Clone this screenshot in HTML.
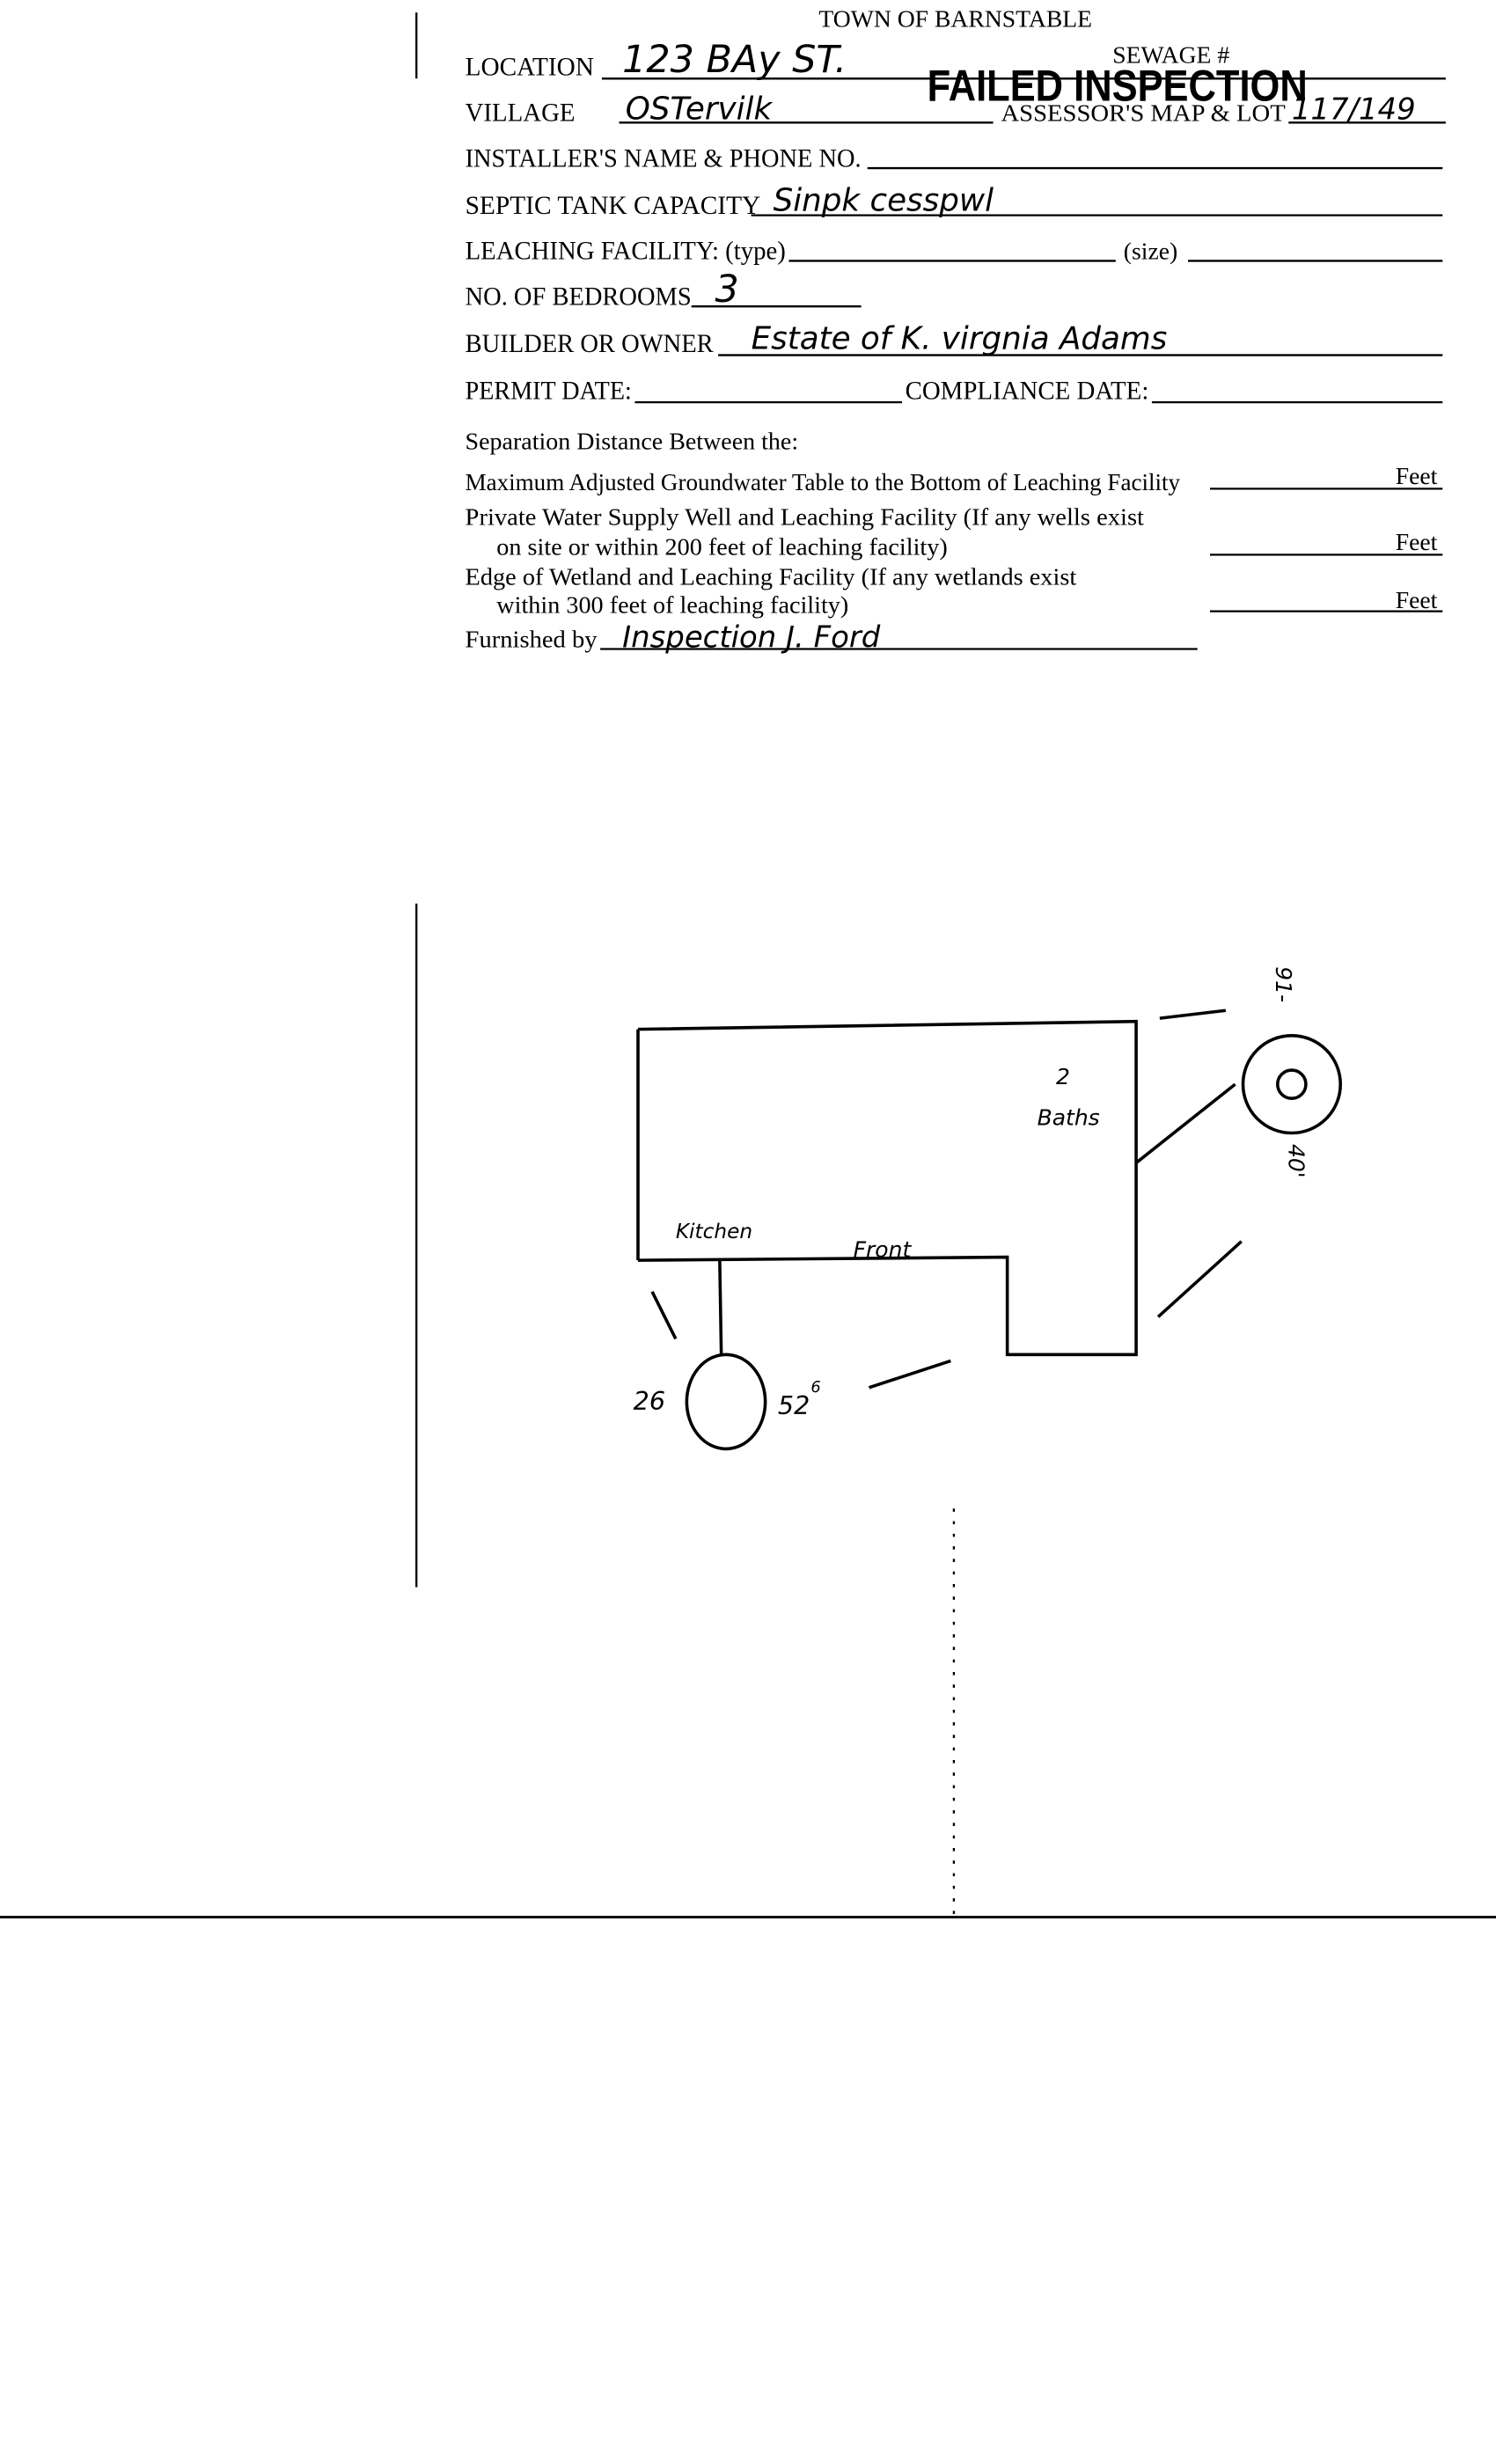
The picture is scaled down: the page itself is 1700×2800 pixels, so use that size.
<!DOCTYPE html>
<html><head><meta charset="utf-8"><style>
html,body{margin:0;padding:0;background:#fff;}
svg{display:block;}
.f{font-family:"Liberation Serif",serif;font-size:15.5px;fill:#000;}
.c{font-size:16.5px;}
.h{font-family:"DejaVu Sans",sans-serif;font-style:italic;fill:#000;}
</style></head><body>
<svg width="1700" height="2800" viewBox="0 0 952 1568" xmlns="http://www.w3.org/2000/svg">
<g stroke="#000" stroke-width="1.3" fill="none">
<line x1="265" y1="8" x2="265" y2="50"/>
<line x1="265" y1="575" x2="265" y2="1010"/>
<line x1="0" y1="1220" x2="952" y2="1220" stroke-width="1.6"/>
<line x1="607" y1="960" x2="607" y2="1220" stroke-dasharray="2,6"/>
<line x1="383" y1="50" x2="920" y2="50"/>
<line x1="394" y1="78" x2="632" y2="78"/>
<line x1="820" y1="78" x2="920" y2="78"/>
<line x1="552" y1="107" x2="918" y2="107"/>
<line x1="478" y1="137" x2="918" y2="137"/>
<line x1="502" y1="166" x2="710" y2="166"/>
<line x1="756" y1="166" x2="918" y2="166"/>
<line x1="440" y1="195" x2="548" y2="195"/>
<line x1="457" y1="226" x2="918" y2="226"/>
<line x1="404" y1="256" x2="574" y2="256"/>
<line x1="733" y1="256" x2="918" y2="256"/>
<line x1="770" y1="311" x2="918" y2="311"/>
<line x1="770" y1="353" x2="918" y2="353"/>
<line x1="770" y1="389" x2="918" y2="389"/>
<line x1="382" y1="413" x2="762" y2="413"/>
</g>
<text class="f" x="608" y="17" text-anchor="middle">TOWN OF BARNSTABLE</text>
<text class="f c" x="296" y="48" textLength="82" lengthAdjust="spacingAndGlyphs">LOCATION</text>
<text class="f" x="708" y="40" font-size="11">SEWAGE #</text>
<text x="590" y="64" font-family="Liberation Sans,sans-serif" font-weight="bold" font-size="28" textLength="242" lengthAdjust="spacingAndGlyphs">FAILED INSPECTION</text>
<text class="f" x="637" y="77" font-size="14" textLength="181" lengthAdjust="spacingAndGlyphs">ASSESSOR'S MAP &amp; LOT</text>
<text class="f c" x="296" y="77" textLength="70" lengthAdjust="spacingAndGlyphs">VILLAGE</text>
<text class="f c" x="296" y="106" textLength="252" lengthAdjust="spacingAndGlyphs">INSTALLER'S NAME &amp; PHONE NO.</text>
<text class="f c" x="296" y="136" textLength="188" lengthAdjust="spacingAndGlyphs">SEPTIC TANK CAPACITY</text>
<text class="f c" x="296" y="165" textLength="204" lengthAdjust="spacingAndGlyphs">LEACHING FACILITY: (type)</text>
<text class="f" x="715" y="165">(size)</text>
<text class="f c" x="296" y="194" textLength="144" lengthAdjust="spacingAndGlyphs">NO. OF BEDROOMS</text>
<text class="f c" x="296" y="224" textLength="158" lengthAdjust="spacingAndGlyphs">BUILDER OR OWNER</text>
<text class="f c" x="296" y="254" textLength="106" lengthAdjust="spacingAndGlyphs">PERMIT DATE:</text>
<text class="f c" x="576" y="254" textLength="155" lengthAdjust="spacingAndGlyphs">COMPLIANCE  DATE:</text>
<text class="f" x="296" y="286" textLength="212" lengthAdjust="spacingAndGlyphs">Separation Distance Between the:</text>
<text class="f" x="296" y="312" textLength="455" lengthAdjust="spacingAndGlyphs">Maximum Adjusted Groundwater Table to the Bottom of Leaching Facility</text>
<text class="f" x="888" y="308">Feet</text>
<text class="f" x="296" y="334" textLength="432" lengthAdjust="spacingAndGlyphs">Private Water Supply Well and Leaching Facility  (If any wells exist</text>
<text class="f" x="316" y="353" textLength="287" lengthAdjust="spacingAndGlyphs">on site or within 200 feet of leaching facility)</text>
<text class="f" x="888" y="350">Feet</text>
<text class="f" x="296" y="372" textLength="389" lengthAdjust="spacingAndGlyphs">Edge of Wetland and Leaching Facility (If any wetlands exist</text>
<text class="f" x="316" y="390" textLength="224" lengthAdjust="spacingAndGlyphs">within 300 feet of leaching facility)</text>
<text class="f" x="888" y="387">Feet</text>
<text class="f" x="296" y="412" textLength="84" lengthAdjust="spacingAndGlyphs">Furnished by</text>
<g class="h">
<text x="396" y="46" font-size="24">123  BAy  ST.</text>
<text x="398" y="76" font-size="20">OSTervilk</text>
<text x="822" y="76" font-size="19">117/149</text>
<text x="492" y="134" font-size="20">Sinpk  cesspwl</text>
<text x="455" y="192" font-size="24">3</text>
<text x="478" y="222" font-size="20">Estate   of    K. virgnia   Adams</text>
<text x="396" y="412" font-size="19">Inspection    J. Ford</text>
<text x="672" y="690" font-size="14">2</text>
<text x="660" y="716" font-size="14">Baths</text>
<text x="430" y="788" font-size="13">Kitchen</text>
<text x="543" y="800" font-size="14">Front</text>
<text x="403" y="897" font-size="16">26</text>
<text x="495" y="900" font-size="16">52</text>
<text x="516" y="886" font-size="10">6</text>
<text x="812" y="615" font-size="14" transform="rotate(90 812 615)">91-</text>
<text x="820" y="728" font-size="14" transform="rotate(90 820 728)">40'</text>
</g>
<g stroke="#000" stroke-width="2" fill="none">
<polyline points="406,655 723,650 723,862 641,862 641,800 406,802"/>
<line x1="406" y1="655" x2="406" y2="802"/>
<line x1="458" y1="802" x2="459" y2="862"/>
<ellipse cx="462" cy="892" rx="25" ry="30"/>
<circle cx="822" cy="690" r="31"/>
<circle cx="822" cy="690" r="9"/>
<line x1="723" y1="740" x2="786" y2="690"/>
<line x1="738" y1="648" x2="780" y2="643"/>
<line x1="737" y1="838" x2="790" y2="790"/>
<line x1="415" y1="822" x2="430" y2="852"/>
<line x1="553" y1="883" x2="605" y2="866"/>
</g>
</svg>
</body></html>
